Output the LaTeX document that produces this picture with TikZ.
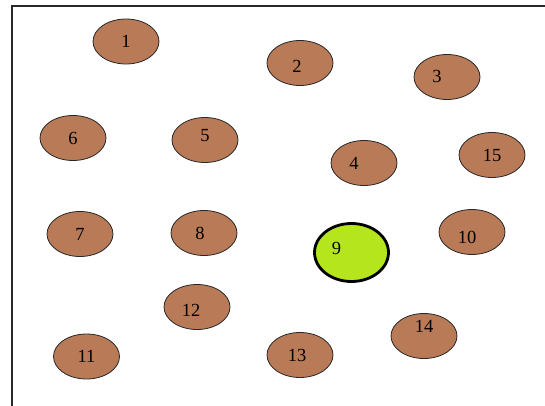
\documentclass[tikz,border=0pt]{standalone}
\usepackage{fontspec}
\setmainfont{Liberation Serif}
\usetikzlibrary{shapes.geometric}
\definecolor{sitebrown}{RGB}{185,122,87}
\definecolor{sitelime}{RGB}{181,230,29}
\definecolor{framegray}{RGB}{40,40,40}

\tikzset{
  site/.style={ellipse, draw=black!85, line width=0.8pt, fill=sitebrown, minimum width=66pt, minimum height=45pt, inner sep=0pt, font=\fontsize{18.5}{18.5}\selectfont},
  sink/.style={site, fill=sitelime, draw=black, line width=2.8pt, minimum width=74pt, minimum height=58pt},
  tag/.style={font=\fontsize{18.5}{18.5}\selectfont, inner sep=0pt}
}

\begin{document}
\begin{tikzpicture}[x=1pt, y=-1pt]
  \useasboundingbox (0,0) rectangle (545,406);
  % frame
  \coordinate (fl) at (12,406);
  \coordinate (fc) at (12,6);
  \coordinate (fr) at (545,6);
  \draw[framegray, line width=1.4pt] (fl) -- (fc) -- (fr);

  % sensor sites
  \node[site] (n1) at (126,41.5) {1};
  \node[site, label={[tag, shift={(-3,3)}]center:2}] (n2) at (300,63) {};
  \node[site, label={[tag, shift={(-10,-1)}]center:3}] (n3) at (447,77) {};
  \node[site, label={[tag, shift={(-10,0)}]center:4}] (n4) at (364,163) {};
  \node[site, label={[tag, shift={(0,-4)}]center:5}] (n5) at (205,140) {};
  \node[site] (n6) at (73,138) {6};
  \node[site] (n7) at (80,234) {7};
  \node[site, label={[tag, shift={(-4,0)}]center:8}] (n8) at (204,233) {};
  \node[sink, label={[tag, shift={(-15,-4)}]center:9}] (n9) at (351.5,252.5) {};
  \node[site, label={[tag, shift={(-5,5)}]center:10}] (n10) at (472,232) {};
  \node[site] (n11) at (86.5,356.5) {11};
  \node[site, label={[tag, shift={(-6,3)}]center:12}] (n12) at (197,307) {};
  \node[site, label={[tag, shift={(-3,0)}]center:13}] (n13) at (300,355) {};
  \node[site, label={[tag, shift={(0,-10)}]center:14}] (n14) at (424,336) {};
  \node[site] (n15) at (492,155) {15};
\end{tikzpicture}
\end{document}
